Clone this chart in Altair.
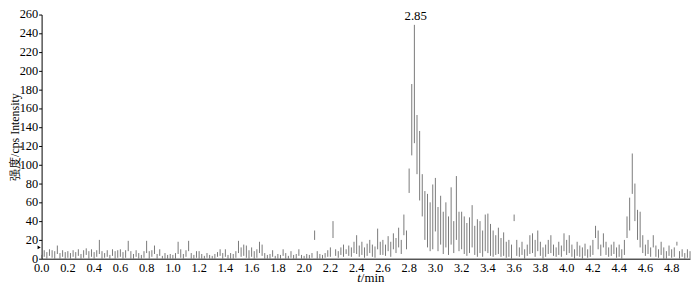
import altair as alt
import pandas as pd

# Chromatogram: per 0.02 min bin, upper and lower ends of the trace strokes (cps)
intensity_high = [
    4, 9, 7, 10, 9, 8, 14, 6, 9, 7,          # 0.00-0.18
    8, 6, 9, 7, 10, 5, 9, 11, 8, 10,         # 0.20-0.38
    7, 9, 20, 8, 6, 9, 4, 10, 8, 9,          # 0.40-0.58
    10, 7, 9, 19, 8, 5, 9, 6, 4, 8,          # 0.60-0.78
    19, 8, 9, 14, 5, 10, 3, 6, 4, 5,         # 0.80-0.98
    4, 6, 18, 10, 5, 9, 19, 6, 4, 8,         # 1.00-1.18
    8, 5, 3, 6, 4, 3, 5, 7, 10, 6,           # 1.20-1.38
    10, 4, 6, 5, 8, 19, 12, 15, 14, 9,       # 1.40-1.58
    12, 8, 10, 18, 15, 6, 4, 5, 9, 3,        # 1.60-1.78
    5, 4, 10, 6, 3, 8, 4, 5, 10, 4,          # 1.80-1.98
    3, 5, 4, 6, 30, 8, 5, 4, 6, 9,           # 2.00-2.18
    12, 40, 10, 8, 12, 15, 10, 14, 12, 18,   # 2.20-2.38
    25, 14, 18, 12, 16, 20, 15, 13, 32, 18,  # 2.40-2.58
    20, 15, 24, 18, 27, 22, 33, 20, 47, 30,  # 2.60-2.78
    96, 186, 249, 153, 136, 90, 72, 69, 60, 79,  # 2.80-2.98
    86, 55, 67, 50, 60, 45, 76, 40, 88, 50,  # 3.00-3.18
    50, 45, 38, 44, 57, 35, 42, 40, 30, 47,  # 3.20-3.38
    48, 37, 30, 25, 33, 22, 28, 18, 20, 15,  # 3.40-3.58
    47, 20, 12, 18, 10, 15, 25, 27, 20, 30,  # 3.60-3.78
    18, 12, 15, 20, 25, 15, 12, 18, 14, 27,  # 3.80-3.98
    20, 25, 15, 10, 18, 14, 12, 16, 10, 14,  # 4.00-4.18
    20, 35, 30, 15, 27, 18, 12, 15, 18, 12,  # 4.20-4.38
    15, 10, 20, 45, 65, 112, 80, 52, 50, 25, # 4.40-4.58
    15, 20, 12, 25, 14, 10, 18, 12, 8, 14,   # 4.60-4.78
    10, 12, 18, 8, 10, 6, 10, 8,             # 4.80-4.94
]
intensity_low = [
    0, 2, 0, 3, 1, 0, 5, 0, 2, 0,
    1, 0, 2, 0, 3, 0, 1, 4, 0, 2,
    0, 2, 5, 0, 1, 2, 0, 3, 0, 1,
    2, 0, 1, 8, 0, 0, 2, 0, 0, 1,
    6, 0, 2, 5, 0, 3, 0, 0, 0, 0,
    0, 0, 5, 1, 0, 2, 8, 0, 0, 1,
    0, 0, 0, 1, 0, 0, 0, 2, 3, 0,
    2, 0, 0, 0, 1, 6, 2, 3, 1, 0,
    2, 0, 1, 6, 3, 0, 0, 0, 2, 0,
    0, 0, 3, 0, 0, 1, 0, 0, 3, 0,
    0, 0, 0, 1, 20, 0, 0, 0, 1, 2,
    2, 22, 3, 1, 4, 2, 5, 3, 2, 6,
    5, 2, 4, 1, 3, 6, 2, 1, 10, 4,
    4, 3, 8, 2, 10, 6, 12, 5, 25, 10,
    70, 110, 123, 90, 62, 45, 20, 12, 8, 10,
    29, 8, 15, 5, 12, 4, 15, 6, 20, 8,
    10, 5, 3, 6, 12, 4, 2, 6, 2, 8,
    6, 3, 2, 4, 5, 2, 3, 1, 2, 0,
    40, 3, 2, 4, 0, 3, 5, 6, 2, 8,
    3, 0, 2, 5, 6, 3, 2, 4, 2, 8,
    4, 6, 2, 0, 3, 2, 0, 3, 1, 2,
    4, 22, 10, 3, 12, 4, 2, 3, 5, 1,
    2, 0, 4, 22, 30, 69, 40, 20, 12, 6,
    3, 5, 2, 12, 2, 1, 4, 0, 0, 3,
    1, 2, 14, 0, 2, 0, 1, 0,
]
time_min = [round(i * 0.02, 2) for i in range(len(intensity_high))]

x_ticks = [0.0, 0.2, 0.4, 0.6, 0.8, 1.0, 1.2, 1.4, 1.6, 1.8, 2.0, 2.2, 2.4,
           2.6, 2.8, 3.0, 3.2, 3.4, 3.6, 3.8, 4.0, 4.2, 4.4, 4.6, 4.8]
y_ticks = [0, 20, 40, 60, 80, 100, 120, 140, 160, 180, 200, 220, 240, 260]

peak_time = [2.85]
peak_value = [249]
peak_text = ["2.85"]

df = pd.DataFrame({"t": time_min, "hi": intensity_high, "lo": intensity_low})
peak_df = pd.DataFrame({"t": peak_time, "v": peak_value, "label": peak_text})
xtick_df = pd.DataFrame({"t": x_ticks})
ytick_df = pd.DataFrame({"v": y_ticks})

SERIF = "Liberation Serif"
FS = 12.5
W, H = 656, 247

x_scale = alt.Scale(domain=[0, 4.94], nice=False, zero=False)
y_scale = alt.Scale(domain=[0, 260], nice=False)

# identical axis specs shared by every layer, so the merged axes stay intact
x_axis = alt.Axis(values=x_ticks, title=None, ticks=False, labels=False,
                  domainColor="black", domainWidth=1, grid=False)
y_axis = alt.Axis(values=y_ticks, title="强度/cps  Intensity",
                  tickSize=3, labels=False, tickColor="black",
                  domainColor="black", domainWidth=1, grid=False,
                  titleFont=SERIF, titleFontSize=12,
                  titleFontWeight="normal", titleColor="black",
                  titleAngle=-90, titleX=-27.5, titleY=H / 2,
                  titleBaseline="middle", titleAlign="center")

trace = alt.Chart(df).mark_rule(color="#6a6a6a", strokeWidth=0.9).encode(
    x=alt.X("t:Q", scale=x_scale, axis=x_axis),
    y=alt.Y("hi:Q", scale=y_scale, axis=y_axis),
    y2="lo:Q",
)

x_labels = alt.Chart(xtick_df).mark_text(
    align="center", baseline="top", font=SERIF, fontSize=FS, color="black"
).encode(
    x=alt.X("t:Q", scale=x_scale, axis=x_axis),
    y=alt.value(H + 3),
    text=alt.Text("t:Q", format=".1f"),
)

y_labels = alt.Chart(ytick_df).mark_text(
    align="right", baseline="middle", font=SERIF, fontSize=FS, color="black"
).encode(
    x=alt.value(-3.5),
    y=alt.Y("v:Q", scale=y_scale, axis=y_axis),
    text=alt.Text("v:Q", format="d"),
)

peak_label = alt.Chart(peak_df).mark_text(
    baseline="bottom", dy=-2, font=SERIF, fontSize=13, color="black"
).encode(x=alt.X("t:Q", scale=x_scale, axis=x_axis),
         y=alt.Y("v:Q", scale=y_scale, axis=y_axis),
         text="label:N")

marker = alt.Chart(pd.DataFrame({"t": [0.0], "v": [12]})).mark_point(
    shape="triangle-right", filled=True, color="black", size=14,
    opacity=1, xOffset=-2.5
).encode(x=alt.X("t:Q", scale=x_scale, axis=x_axis),
         y=alt.Y("v:Q", scale=y_scale, axis=y_axis))

title_t = alt.Chart(pd.DataFrame({"s": ["t"]})).mark_text(
    align="right", baseline="alphabetic", font=SERIF, fontSize=13,
    fontStyle="italic", color="black"
).encode(x=alt.value(323), y=alt.value(H + 24), text="s:N")

title_min = alt.Chart(pd.DataFrame({"s": ["/min"]})).mark_text(
    align="left", baseline="alphabetic", font=SERIF, fontSize=13,
    color="black"
).encode(x=alt.value(323), y=alt.value(H + 24), text="s:N")

chart = alt.layer(trace, x_labels, y_labels, peak_label, marker,
                  title_t, title_min).properties(
    width=W, height=H,
    autosize="none",
    padding={"left": 34, "top": 5, "right": 2, "bottom": 24},
    background="white",
).configure(font=SERIF).configure_view(stroke=None)

chart.save("out.html", embed_options={"renderer": "svg", "actions": False})
